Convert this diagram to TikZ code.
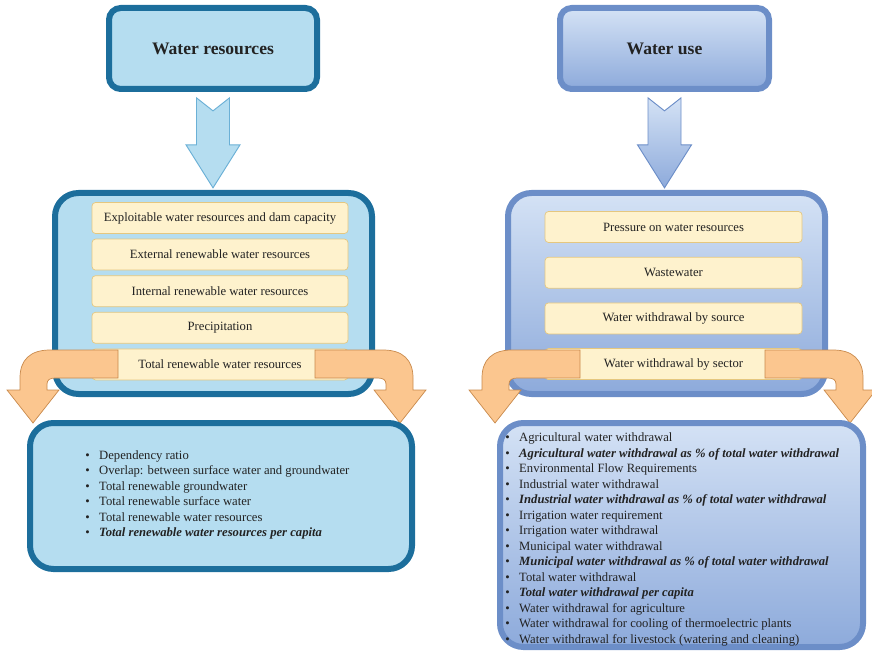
\documentclass[tikz,border=0pt]{standalone}
\usepackage{fontspec}
\setmainfont{Liberation Serif}

\def\px{0.03cm}

\definecolor{resblue}{HTML}{1C6E9C}
\definecolor{resfill}{HTML}{B5DDF0}
\definecolor{resarrow}{HTML}{6BB0D6}
\definecolor{useborder}{HTML}{6C8EC8}
\definecolor{usetop}{HTML}{D4E2F5}
\definecolor{usebottom}{HTML}{8DAADB}
\definecolor{itemfill}{HTML}{FEF2CD}
\definecolor{itemborder}{HTML}{E5C77F}
\definecolor{bendfill}{HTML}{FBC68F}
\definecolor{benddraw}{HTML}{C98A4C}
\definecolor{txt}{HTML}{222222}

\tikzset{
  resbox/.style={draw=resblue, fill=resfill, line width=6*\px, rounded corners=10pt},
  usebox/.style={draw=useborder, top color=usetop, bottom color=usebottom, line width=6*\px, rounded corners=10pt},
  titlefont/.style={font=\fontsize{15}{18}\selectfont\bfseries},
  itembox/.style={draw=itemborder, fill=itemfill, line width=0.6pt, rounded corners=3pt, minimum height=31*\px},
  listitem/.style={anchor=mid west, inner sep=0pt, execute at begin node={\llap{\textbullet\hspace{8pt}}}},
  downarrow/.pic={
    \path[pic actions] (-16.5,0) -- (0,13) -- (16.5,0) -- (16.5,47) -- (27,47) -- (0,90) -- (-27,47) -- (-16.5,47) -- cycle;
  },
  bendarrow/.pic={
    \path[draw=benddraw, fill=bendfill, line width=0.6pt] (0,0) -- (-68,0) .. controls (-88,0) and (-98,10) .. (-98,28) -- (-98,40) -- (-111,40) -- (-85,73) -- (-59,40) -- (-71,40) -- (-71,34) .. controls (-71,30) and (-68,28) .. (-63,28) -- (0,28) -- cycle;
  }
}

\begin{document}
\begin{tikzpicture}[x=\px, y=-\px, font=\fontsize{10.8}{13}\selectfont, text=txt]
\useasboundingbox (0,0) rectangle (872,656);

% water resources
\node[resbox, titlefont, minimum width=208*\px, minimum height=81*\px] (res) at (213,48.5) {Water resources};
\pic[draw=resarrow, fill=resfill, line width=0.8pt] at ([yshift=-5pt]res.south) {downarrow};
\node[resbox, rounded corners=20pt, minimum width=317*\px, minimum height=201*\px] (resind) at (213.5,293.5) {};
\foreach \txt [count=\i] in {Exploitable water resources and dam capacity, External renewable water resources, Internal renewable water resources, Precipitation, Total renewable water resources}
  \node[itembox, minimum width=256*\px] (resitem\i) at (220,{181.4+36.6*\i}) {\txt};
\pic at (118,350) {bendarrow};
\pic[xscale=-1] at (315,350) {bendarrow};
\node[resbox, rounded corners=20pt, minimum width=382*\px, minimum height=146*\px] (reslist) at (221,496) {};
\foreach \txt [count=\i] in {Dependency ratio, Overlap: between surface water and groundwater, Total renewable groundwater, Total renewable surface water, Total renewable water resources, \textbf{\textit{Total renewable water resources per capita}}}
  \node[listitem] (resline\i) at (99,{441.2+15.5*\i}) {\txt};

% water use
\node[usebox, titlefont, minimum width=209*\px, minimum height=81*\px] (use) at (664.5,48.5) {Water use};
\pic[draw=useborder, top color=usetop, bottom color=usebottom, line width=0.8pt] at ([yshift=-5pt]use.south) {downarrow};
\node[usebox, rounded corners=20pt, minimum width=317*\px, minimum height=201*\px] (useind) at (666.5,293.5) {};
\foreach \txt [count=\i] in {Pressure on water resources, Wastewater, Water withdrawal by source, Water withdrawal by sector}
  \node[itembox, minimum width=257*\px] (useitem\i) at (673.5,{181.3+45.7*\i}) {\txt};
\pic at (580,350) {bendarrow};
\pic[xscale=-1] at (765,350) {bendarrow};
\node[usebox, rounded corners=20pt, minimum width=363*\px, minimum height=224*\px] (uselist) at (681.5,535) {};
\foreach \txt [count=\i] in {Agricultural water withdrawal, \textbf{\textit{Agricultural water withdrawal as \% of total water withdrawal}}, Environmental Flow Requirements, Industrial water withdrawal, \textbf{\textit{Industrial water withdrawal as \% of total water withdrawal}}, Irrigation water requirement, Irrigation water withdrawal, Municipal water withdrawal, \textbf{\textit{Municipal water withdrawal as \% of total water withdrawal}}, Total water withdrawal, \textbf{\textit{Total water withdrawal per capita}}, Water withdrawal for agriculture, Water withdrawal for cooling of thermoelectric plants, Water withdrawal for livestock (watering and cleaning)}
  \node[listitem] (useline\i) at (519,{423.8+15.5*\i}) {\txt};
\end{tikzpicture}
\end{document}
